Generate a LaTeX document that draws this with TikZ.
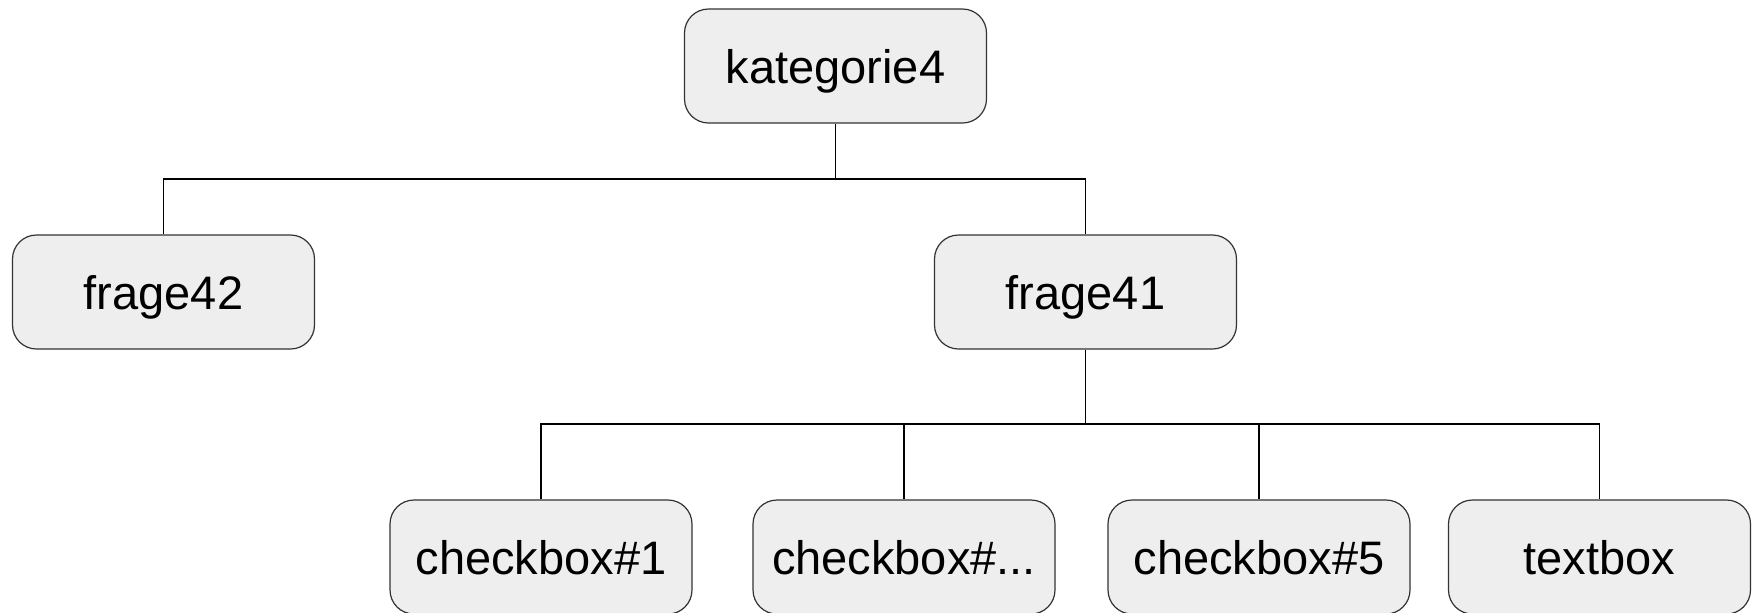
\documentclass[tikz,border=0pt]{standalone}
\usepackage{fontspec}
\setmainfont{Liberation Sans}
\usetikzlibrary{positioning}

\definecolor{boxfill}{HTML}{EEEEEE}
\definecolor{boxline}{HTML}{333333}

\tikzset{
  treebox/.style={draw=boxline, fill=boxfill, line width=0.6pt, rounded corners=12pt,
    minimum width=151pt, minimum height=57pt, inner sep=0pt, text height=17pt, text depth=0pt,
    font=\fontsize{23.5}{28}\selectfont},
  treeline/.style={draw=black, line width=0.55pt}
}

\begin{document}
\begin{tikzpicture}[x=0.5pt, y=-0.5pt]
    \useasboundingbox (0,0) rectangle (1752,612);
    % Knoten
    \node[treebox] (kat4) at (835.5,66) {kategorie4};
    \node[treebox] (fr42) at (163.5,292) {frage42};
    \node[treebox] (fr41) at (1085.5,292) {frage41};
    \node[treebox] (cb1)  at (541,557) {checkbox\#1};
    \node[treebox] (cbx)  at (904,557) {checkbox\#...};
    \node[treebox] (cb5)  at (1259,557) {checkbox\#5};
    \node[treebox] (tb)   at (1599.5,557) {textbox};

    % Verbindungen
    \coordinate (bus1) at (kat4.south |- 0,179);
    \coordinate (bus2) at (fr41.south |- 0,424);
    \draw[treeline] (kat4.south) -- (bus1) -| (fr42.north);
    \draw[treeline] (bus1) -| (fr41.north);
    \draw[treeline] (fr41.south) -- (bus2);
    \draw[treeline] (bus2) -| (cb1.north);
    \draw[treeline] (bus2) -| (cbx.north);
    \draw[treeline] (bus2) -| (cb5.north);
    \draw[treeline] (bus2) -| (tb.north);
\end{tikzpicture}
\end{document}
